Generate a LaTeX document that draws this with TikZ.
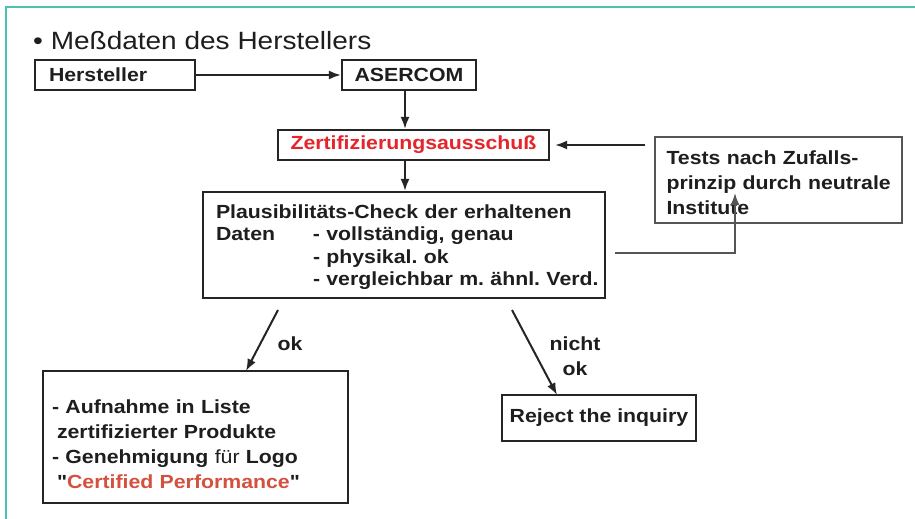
\documentclass[tikz,border=0pt]{standalone}
\usepackage{fontspec}
\setmainfont{Liberation Sans}[FakeStretch=1.12]
\newfontfamily\qfont{Liberation Sans}[FakeStretch=1.12]
\usetikzlibrary{arrows.meta,calc}
\definecolor{tealline}{HTML}{4EC0B0}
\definecolor{txt}{HTML}{1E1E1E}
\definecolor{boxline}{HTML}{252525}
\definecolor{grayline}{HTML}{555555}
\definecolor{zertred}{HTML}{E5242C}
\definecolor{certred}{HTML}{D4503F}
\newcommand\bxfont{\bfseries\fontsize{19}{22}\selectfont}
\newcommand\strq{{\qfont\bfseries"}}
\frenchspacing
\begin{document}
\begin{tikzpicture}[x=1pt,y=-1pt,
  box/.style={draw=boxline, line width=2.2pt, rectangle, inner sep=0pt, font=\bxfont, text=txt},
  arr/.style={-{Latex[length=12pt,width=9pt]}, line width=2pt, draw=boxline},
  lbl/.style={font=\bxfont, text=txt, inner sep=0pt}]
\useasboundingbox (0,0) rectangle (915,519);
\fill[white] (0,0) rectangle (915,519);
% frame
\draw[tealline, line width=2pt] (6,519) -- (6,7.5) -- (915,7.5);
% title
\node[anchor=base west, font=\fontsize{25}{30}\selectfont, text=txt, inner sep=0pt] (title) at (33,49) {• Meßdaten des Herstellers};
% boxes
\node[box, minimum width=160pt, minimum height=30pt, text width=132pt, align=left] (herst) at (115,75) {Hersteller};
\node[box, minimum width=134pt, minimum height=30pt, align=center] (aserc) at (409,75) {ASERCOM};
\node[box, minimum width=271pt, minimum height=30pt, align=center, text=zertred] (zert) at (413.5,145) {Zertifizierungsausschuß};
\node[box, draw=grayline, line width=1.6pt, minimum width=247pt, minimum height=86pt, text width=224pt, align=left, font=\bfseries\fontsize{19}{25}\selectfont] (tests) at (778.5,180) {\rule{0pt}{20pt}\mbox{Tests nach Zufalls-}\\\mbox{prinzip durch neutrale}\\\mbox{Institute}};
\node[box, minimum width=402pt, minimum height=106pt, text width=376pt, align=left, font=\bfseries\fontsize{19}{22.5}\selectfont] (plaus) at (404,245) {\rule{0pt}{18pt}\mbox{Plausibilitäts-Check der erhaltenen}\\\mbox{\makebox[97pt][l]{Daten}- vollständig, genau}\\\mbox{\hspace*{97pt}- physikal. ok}\\\mbox{\hspace*{97pt}- vergleichbar m. ähnl. Verd.}};
\node[box, minimum width=305pt, minimum height=132pt, text width=287pt, align=left, font=\bfseries\fontsize{19}{25}\selectfont] (okbox) at (195.5,437) {\rule{0pt}{28pt}- Aufnahme in Liste\\\hspace*{5pt}zertifizierter Produkte\\- Genehmigung \textmd{für} Logo\\\hspace*{5pt}\strq\textcolor{certred}{Certified Performance}\strq};
\node[box, minimum width=194pt, minimum height=46pt, align=center] (reject) at (599,418) {Reject the inquiry};
% labels
\node[lbl] (lok) at (290,344) {ok};
\node[lbl, align=center, font=\bfseries\fontsize{19}{25}\selectfont] (lnok) at (575,356) {nicht\\ok};
% connectors
\draw[arr] (herst.east) -- (aserc.west);
\coordinate (a1) at ($(aserc.south)+(-4,0)$);
\draw[arr] (a1) -- (a1 |- zert.north);
\draw[arr] (zert.south -| a1) -- (a1 |- plaus.north);
\draw[arr, shorten <=9pt, shorten >=5pt] (zert.east -| tests.west) -- (zert.east);
\coordinate (p1) at (615,253);
\coordinate (t1) at (735,193);
\draw[arr, line width=1.6pt, draw=grayline] (p1) -| (t1);
\coordinate (o1) at (278,310);
\coordinate (o2) at (246,371);
\draw[arr] (o1) -- (o2);
\coordinate (n1) at (512,310);
\coordinate (n2) at (557,395);
\draw[arr] (n1) -- (n2);
\end{tikzpicture}
\end{document}
